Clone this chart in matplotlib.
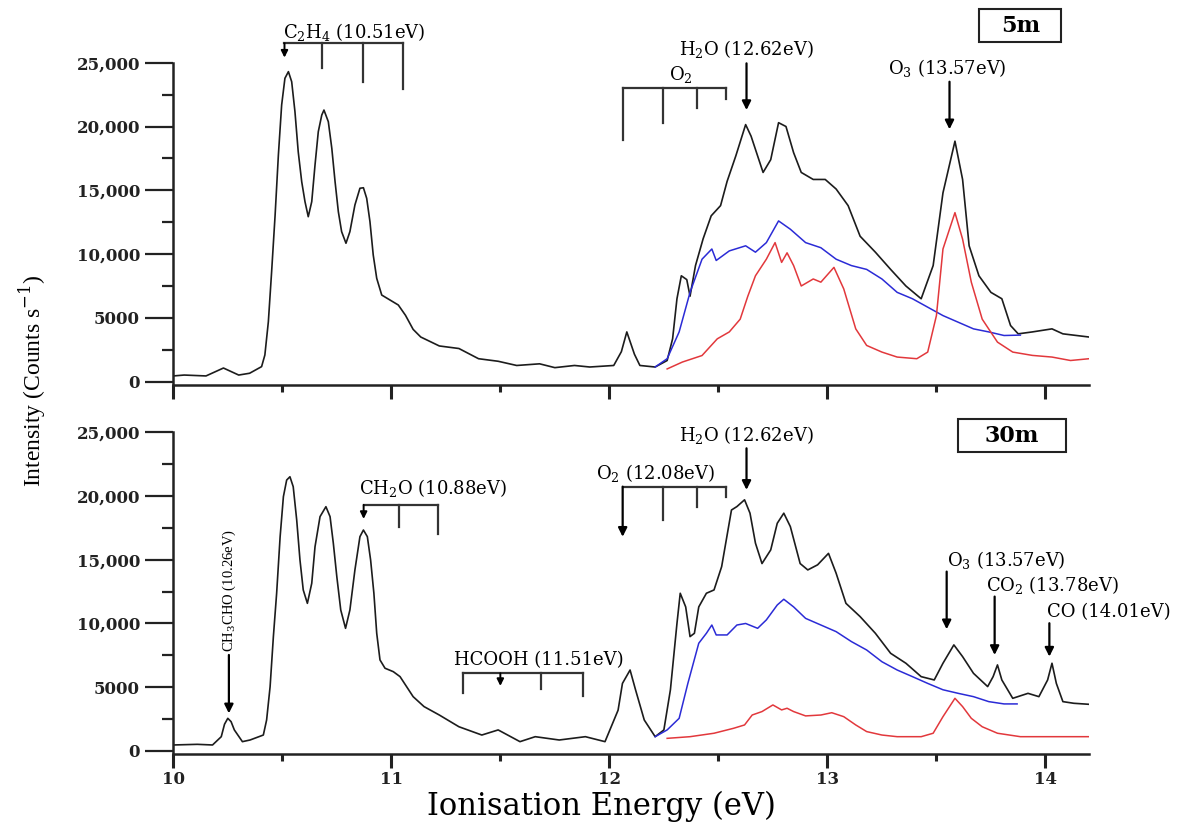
import numpy as np
import matplotlib.pyplot as plt
from matplotlib.patches import Rectangle

plt.rcParams['font.family'] = 'DejaVu Serif'
plt.rcParams['mathtext.fontset'] = 'dejavuserif'

# ---- 5 min spectrum (top panel) ----
e_5m_total = [10.00, 10.05, 10.15, 10.23, 10.30, 10.35, 10.405, 10.42, 10.436, 10.451, 10.467, 10.482,
              10.497, 10.512, 10.528, 10.543, 10.558, 10.573, 10.589, 10.604, 10.619, 10.635, 10.65, 10.665,
              10.681, 10.691, 10.711, 10.727, 10.742, 10.757, 10.772, 10.792, 10.81, 10.833, 10.856, 10.872,
              10.887, 10.902, 10.917, 10.933, 10.956, 10.994, 11.032, 11.065, 11.10, 11.135, 11.22,
              11.31, 11.40, 11.49, 11.575, 11.68, 11.75, 11.84, 11.91, 12.02, 12.055, 12.08, 12.115,
              12.14, 12.21, 12.265, 12.29, 12.31, 12.33, 12.355, 12.37, 12.395, 12.43, 12.467, 12.51,
              12.54, 12.58, 12.625, 12.65, 12.705, 12.74, 12.776, 12.81, 12.845, 12.88, 12.935, 12.99,
              13.04, 13.095, 13.15, 13.22, 13.29, 13.36, 13.43, 13.485, 13.53, 13.585, 13.62, 13.65,
              13.695, 13.75, 13.80, 13.84, 13.875, 13.94, 14.03, 14.08, 14.20]
i_5m_total = [450, 520, 450, 1070, 520, 660, 1180, 2090, 4700, 8620, 13060, 17770,
              21690, 23780, 24300, 23510, 21160, 18020, 15670, 14110, 12930, 14110, 16980, 19590,
              20900, 21290, 20380, 18290, 15670, 13320, 11760, 10850, 11760, 13850, 15160, 15200,
              14370, 12540, 9930, 8100, 6790, 6400, 6010, 5200, 4100, 3500, 2800,
              2600, 1800, 1600, 1270, 1400, 1100, 1270, 1150, 1270, 2350, 3900, 2150,
              1270, 1150, 1660, 3360, 6500, 8300, 8000, 6700, 9100, 11200, 13000, 13800,
              15700, 17700, 20150, 19240, 16400, 17400, 20300, 20000, 17950, 16400, 15850, 15850,
              15100, 13800, 11400, 10150, 8800, 7500, 6500, 9100, 14800, 18850, 15850, 10650,
              8300, 7000, 6500, 4400, 3750, 3900, 4140, 3750, 3500]

e_5m_blue = [12.21, 12.265, 12.32, 12.37, 12.425, 12.47, 12.49, 12.55, 12.625, 12.67, 12.72, 12.776,
             12.83, 12.90, 12.97, 13.04, 13.11, 13.18, 13.25, 13.32, 13.39, 13.46, 13.53, 13.60,
             13.67, 13.74, 13.81, 13.885]
i_5m_blue = [1150, 1800, 3900, 7000, 9600, 10400, 9500, 10250, 10650, 10150, 10900, 12600,
             11950, 10900, 10500, 9600, 9100, 8800, 8050, 7000, 6500, 5840, 5180, 4660,
             4140, 3900, 3620, 3650]

e_5m_red = [12.265, 12.335, 12.425, 12.495, 12.55, 12.60, 12.635, 12.67, 12.72, 12.76, 12.79, 12.815,
            12.845, 12.88, 12.935, 12.97, 13.03, 13.075, 13.13, 13.18, 13.25, 13.32, 13.41, 13.46,
            13.50, 13.53, 13.585, 13.62, 13.66, 13.71, 13.78, 13.85, 13.94, 14.03, 14.115, 14.20]
i_5m_red = [1000, 1540, 2050, 3360, 3900, 4900, 6700, 8300, 9600, 10900, 9350, 10100,
            9100, 7500, 8050, 7800, 8960, 7270, 4140, 2840, 2320, 1930, 1800, 2320,
            5180, 10400, 13250, 11170, 7800, 4900, 3100, 2320, 2060, 1930, 1660, 1800]

# ---- 30 min spectrum (bottom panel) ----
e_30m_total = [10.00, 10.11, 10.18, 10.22, 10.235, 10.25, 10.265, 10.28, 10.317, 10.352, 10.413, 10.428,
               10.444, 10.459, 10.474, 10.49, 10.505, 10.52, 10.535, 10.55, 10.566, 10.581, 10.596, 10.615,
               10.635, 10.65, 10.673, 10.70, 10.719, 10.734, 10.75, 10.768, 10.79, 10.81, 10.833, 10.856,
               10.872, 10.89, 10.905, 10.92, 10.933, 10.948, 10.971, 11.009, 11.04, 11.10, 11.15, 11.22,
               11.31, 11.415, 11.49, 11.59, 11.66, 11.77, 11.89, 11.98, 12.04, 12.06, 12.095, 12.12,
               12.16, 12.21, 12.25, 12.28, 12.31, 12.325, 12.35, 12.37, 12.39, 12.41, 12.445, 12.48,
               12.515, 12.56, 12.585, 12.62, 12.645, 12.67, 12.70, 12.74, 12.77, 12.80, 12.83, 12.875,
               12.91, 12.955, 13.005, 13.04, 13.085, 13.15, 13.22, 13.29, 13.36, 13.43, 13.49, 13.53,
               13.58, 13.62, 13.67, 13.735, 13.76, 13.78, 13.80, 13.85, 13.92, 13.97, 14.01, 14.03,
               14.05, 14.08, 14.13, 14.20]
i_30m_total = [470, 520, 470, 1120, 2100, 2560, 2300, 1650, 730, 860, 1250, 2430,
               5040, 8960, 12370, 16810, 19950, 21250, 21510, 20730, 18120, 14980, 12630, 11580,
               13150, 16020, 18380, 19160, 18380, 16290, 13670, 11060, 9620, 11060, 14200, 16810,
               17330, 16810, 14980, 12370, 9230, 7140, 6490, 6220, 5830, 4260, 3480, 2820,
               1900, 1250, 1650, 730, 1120, 860, 1120, 730, 3200, 5300, 6350, 4800,
               2430, 1120, 1650, 4800, 10000, 12370, 11300, 8970, 9230, 11300, 12370, 12630,
               14460, 18900, 19170, 19700, 18650, 16300, 14700, 15770, 17860, 18650, 17600, 14700,
               14200, 14600, 15500, 13940, 11580, 10540, 9230, 7660, 6880, 5830, 5570, 6880,
               8320, 7400, 6090, 5050, 5830, 6750, 5570, 4130, 4520, 4260, 5570, 6880,
               5300, 3870, 3740, 3660]

e_30m_blue = [12.21, 12.265, 12.32, 12.36, 12.41, 12.445, 12.47, 12.49, 12.54, 12.585, 12.625, 12.68,
              12.72, 12.77, 12.80, 12.845, 12.90, 12.97, 13.04, 13.11, 13.18, 13.25, 13.32, 13.39,
              13.46, 13.53, 13.60, 13.67, 13.74, 13.81, 13.87]
i_30m_blue = [1120, 1650, 2560, 5300, 8450, 9230, 9880, 9100, 9100, 9880, 10000, 9620,
              10280, 11450, 11900, 11300, 10400, 9880, 9360, 8580, 7920, 7000, 6350, 5830,
              5300, 4800, 4520, 4260, 3870, 3690, 3690]

e_30m_red = [12.265, 12.37, 12.48, 12.57, 12.62, 12.655, 12.70, 12.75, 12.79, 12.815, 12.845, 12.90,
             12.97, 13.02, 13.075, 13.13, 13.18, 13.25, 13.32, 13.43, 13.485, 13.53, 13.585, 13.62,
             13.66, 13.71, 13.78, 13.885, 14.03, 14.20]
i_30m_red = [990, 1120, 1390, 1780, 2040, 2820, 3090, 3610, 3220, 3350, 3090, 2750,
             2820, 3000, 2690, 2040, 1520, 1250, 1120, 1120, 1390, 2690, 4130, 3480,
             2560, 1900, 1390, 1120, 1120, 1120]

y_ticks = [0, 5000, 10000, 15000, 20000, 25000]
y_tick_labels = ['0', '5000', '10,000', '15,000', '20,000', '25,000']
x_ticks = [10, 11, 12, 13, 14]

black = '#1c1c1c'
blue = '#2b2bd6'
red = '#e2383c'

fig = plt.figure(figsize=(11.91, 8.23), dpi=100)
ax_top = fig.add_axes([0.1455, 0.5322, 0.7689, 0.3916])
ax_bot = fig.add_axes([0.1455, 0.0835, 0.7689, 0.3913])


def style_axis(ax):
    ax.set_xlim(10, 14.2)
    ax.set_ylim(-260, 25000)
    ax.spines[['top', 'right']].set_visible(False)
    ax.spines[['left', 'bottom']].set_linewidth(1.8)
    ax.spines[['left', 'bottom']].set_color('#222222')
    ax.set_yticks(y_ticks)
    ax.set_yticklabels(y_tick_labels)
    ax.set_yticks(np.arange(2500, 25000, 5000), minor=True)
    ax.set_xticks(x_ticks)
    ax.set_xticks(np.arange(10.5, 14.2, 1.0), minor=True)
    ax.tick_params(axis='y', which='major', length=20, width=1.6, pad=4, labelsize=12, colors='#222222')
    ax.tick_params(axis='y', which='minor', length=8, width=1.6, colors='#222222')
    ax.tick_params(axis='x', which='major', length=10, width=2.2, pad=2, labelsize=12, colors='#222222')
    ax.tick_params(axis='x', which='minor', length=5, width=2.2, colors='#222222')
    for lab in ax.get_xticklabels() + ax.get_yticklabels():
        lab.set_fontweight('bold')


def arrow(ax, x, y_from, y_to, lw=1.6, ms=13):
    ax.annotate('', xy=(x, y_to), xytext=(x, y_from), annotation_clip=False,
                arrowprops=dict(arrowstyle='-|>', color='k', lw=lw, mutation_scale=ms,
                                shrinkA=0, shrinkB=0))


def bracket(ax, x_left, x_right, y_top, drops):
    ax.plot([x_left, x_right], [y_top, y_top], color='#333333', lw=1.6, clip_on=False)
    for x, y_end in drops:
        ax.plot([x, x], [y_top, y_end], color='#333333', lw=1.6, clip_on=False)


style_axis(ax_top)
style_axis(ax_bot)
ax_top.tick_params(labelbottom=False)

ax_top.plot(e_5m_total, i_5m_total, color=black, lw=1.2)
ax_top.plot(e_5m_blue, i_5m_blue, color=blue, lw=1.1)
ax_top.plot(e_5m_red, i_5m_red, color=red, lw=1.1)

ax_bot.plot(e_30m_total, i_30m_total, color=black, lw=1.2)
ax_bot.plot(e_30m_blue, i_30m_blue, color=blue, lw=1.1)
ax_bot.plot(e_30m_red, i_30m_red, color=red, lw=1.1)

fs = 13

# top panel labels
ax_top.text(10.83, 27400, 'C$_2$H$_4$ (10.51eV)', ha='center', va='center', fontsize=fs)
bracket(ax_top, 10.51, 11.052, 26520, [(10.682, 24560), (10.869, 23510), (11.052, 22920)])
arrow(ax_top, 10.51, 26520, 25400, lw=1.4, ms=10)

ax_top.text(12.33, 24110, 'O$_2$', ha='center', va='center', fontsize=fs)
bracket(ax_top, 12.061, 12.535, 23040, [(12.061, 18940), (12.245, 20300), (12.404, 21430), (12.535, 22130)])

ax_top.text(12.63, 26050, 'H$_2$O (12.62eV)', ha='center', va='center', fontsize=fs)
arrow(ax_top, 12.629, 24950, 21290)

ax_top.text(13.55, 24560, 'O$_3$ (13.57eV)', ha='center', va='center', fontsize=fs)
arrow(ax_top, 13.56, 23510, 19780)

ax_top.add_patch(Rectangle((0.880, 1.064), 0.0894, 0.1026, transform=ax_top.transAxes,
                           fill=False, lw=1.5, ec='#222222', clip_on=False))
ax_top.text(0.925, 1.114, '5m', transform=ax_top.transAxes, ha='center', va='center',
            fontsize=16, fontweight='bold')

# bottom panel labels
ax_bot.text(10.255, 12600, 'CH$_3$CHO (10.26eV)', rotation=90, ha='center', va='center',
            fontsize=10.5, family='Liberation Serif')
arrow(ax_bot, 10.255, 7530, 2950)

ax_bot.text(11.19, 20600, 'CH$_2$O (10.88eV)', ha='center', va='center', fontsize=fs)
bracket(ax_bot, 10.873, 11.214, 19300, [(11.035, 17600), (11.214, 17000)])
arrow(ax_bot, 10.873, 19300, 18200, lw=1.4, ms=10)

ax_bot.text(11.675, 7130, 'HCOOH (11.51eV)', ha='center', va='center', fontsize=fs)
bracket(ax_bot, 11.327, 11.879, 6090, [(11.327, 4570), (11.686, 4830), (11.879, 4310)])
arrow(ax_bot, 11.50, 6090, 5100, lw=1.4, ms=10)

ax_bot.text(12.21, 21780, 'O$_2$ (12.08eV)', ha='center', va='center', fontsize=fs)
bracket(ax_bot, 12.061, 12.535, 20730, [(12.245, 18100), (12.404, 19170), (12.535, 19900)])
arrow(ax_bot, 12.061, 20730, 16800)

ax_bot.text(12.63, 24790, 'H$_2$O (12.62eV)', ha='center', va='center', fontsize=fs)
arrow(ax_bot, 12.629, 23740, 20480)

ax_bot.text(13.82, 14980, 'O$_3$ (13.57eV)', ha='center', va='center', fontsize=fs)
arrow(ax_bot, 13.547, 14070, 9545)

ax_bot.text(14.03, 13020, 'CO$_2$ (13.78eV)', ha='center', va='center', fontsize=fs)
arrow(ax_bot, 13.767, 12110, 7530)

ax_bot.text(14.29, 10930, 'CO (14.01eV)', ha='center', va='center', fontsize=fs)
arrow(ax_bot, 14.018, 10020, 7400)

ax_bot.add_patch(Rectangle((0.8567, 0.939), 0.1182, 0.102, transform=ax_bot.transAxes,
                           fill=False, lw=1.5, ec='#222222', clip_on=False))
ax_bot.text(0.916, 0.9885, '30m', transform=ax_bot.transAxes, ha='center', va='center',
            fontsize=16, fontweight='bold')

fig.text(32 / 1191, 1 - 381 / 823, 'Intensity (Counts s$^{-1}$)', rotation=90, ha='center',
         va='center', fontsize=17, family='Liberation Serif')
fig.text(601 / 1191, 1 - 806 / 823, 'Ionisation Energy (eV)', ha='center', va='center',
         fontsize=22)

fig.savefig('out.png', dpi=100)
